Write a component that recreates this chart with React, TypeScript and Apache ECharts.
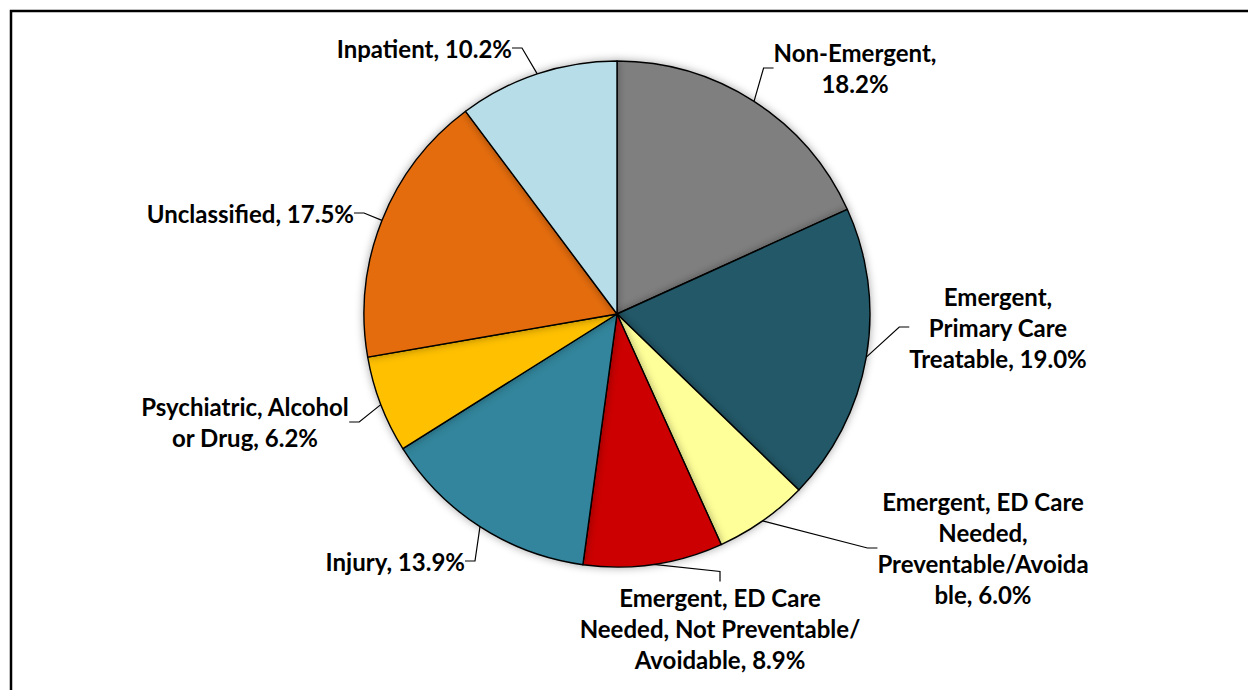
import React, { useEffect, useRef } from "react";
import * as echarts from "echarts";

const categories = [
  "Non-Emergent",
  "Emergent, Primary Care Treatable",
  "Emergent, ED Care Needed, Preventable/Avoidable",
  "Emergent, ED Care Needed, Not Preventable/Avoidable",
  "Injury",
  "Psychiatric, Alcohol or Drug",
  "Unclassified",
  "Inpatient",
];
const values = [18.2, 19.0, 6.0, 8.9, 13.9, 6.2, 17.5, 10.2];
// label text as wrapped in the original chart (category part)
const wrappedNames = [
  "Non-Emergent,\n",
  "Emergent,\nPrimary Care\nTreatable, ",
  "Emergent, ED Care\nNeeded,\nPreventable/Avoida\nble, ",
  "Emergent, ED Care\nNeeded, Not Preventable/\nAvoidable, ",
  "Injury, ",
  "Psychiatric, Alcohol\nor Drug, ",
  "Unclassified, ",
  "Inpatient, ",
];
const colors = ["#7F7F7F", "#215968", "#FFFF99", "#CC0000", "#31859C", "#FFC000", "#E46C0A", "#B7DEE8"];

// label block placement (layout, not data)
const labelPos: { x: number; y: number; align: string }[] = [
  { x: 855, y: 68, align: "center" },
  { x: 998, y: 327, align: "center" },
  { x: 983, y: 548, align: "center" },
  { x: 720, y: 628, align: "center" },
  { x: 465, y: 561, align: "right" },
  { x: 245, y: 422, align: "center" },
  { x: 354, y: 213, align: "right" },
  { x: 512, y: 48, align: "right" },
];

export default function App() {
  const ref = useRef<HTMLDivElement>(null);
  useEffect(() => {
    if (!ref.current) return;
    const chart = echarts.init(ref.current, undefined, { renderer: "svg" });
    chart.setOption({
      animation: false,
      backgroundColor: "#ffffff",
      graphic: [
        {
          type: "rect",
          shape: { x: 11, y: 11, width: 1300, height: 800 },
          style: { fill: "none", stroke: "#000", lineWidth: 2.5 },
          silent: true,
        },
      ],
      series: [
        {
          type: "pie",
          center: [617, 314],
          radius: 253,
          startAngle: 90,
          clockwise: true,
          avoidLabelOverlap: false,
          data: categories.map((c, i) => ({
            name: c,
            value: values[i],
            itemStyle: { color: colors[i] },
          })),
          itemStyle: {
            borderColor: "#000",
            borderWidth: 1.4,
            shadowBlur: 8,
            shadowColor: "rgba(0,0,0,0.35)",
          },
          label: {
            show: true,
            formatter: (p: any) => wrappedNames[p.dataIndex] + values[p.dataIndex].toFixed(1) + "%",
            fontFamily: "Lato",
            fontWeight: "bold",
            fontSize: 24,
            lineHeight: 31,
            color: "#000",
          },
          labelLine: {
            show: true,
            length: 10,
            length2: 10,
            smooth: false,
            lineStyle: { color: "#000", width: 1.2 },
          },
          labelLayout: (p: any) => {
            const lp = labelPos[p.dataIndex];
            return { x: lp.x, y: lp.y, align: lp.align, verticalAlign: "middle" };
          },
          emphasis: { disabled: true },
        },
      ],
    });
    return () => chart.dispose();
  }, []);
  return (
    <div
      ref={ref}
      style={{ position: "absolute", left: 0, top: 0, width: 1248, height: 690 }}
    />
  );
}
